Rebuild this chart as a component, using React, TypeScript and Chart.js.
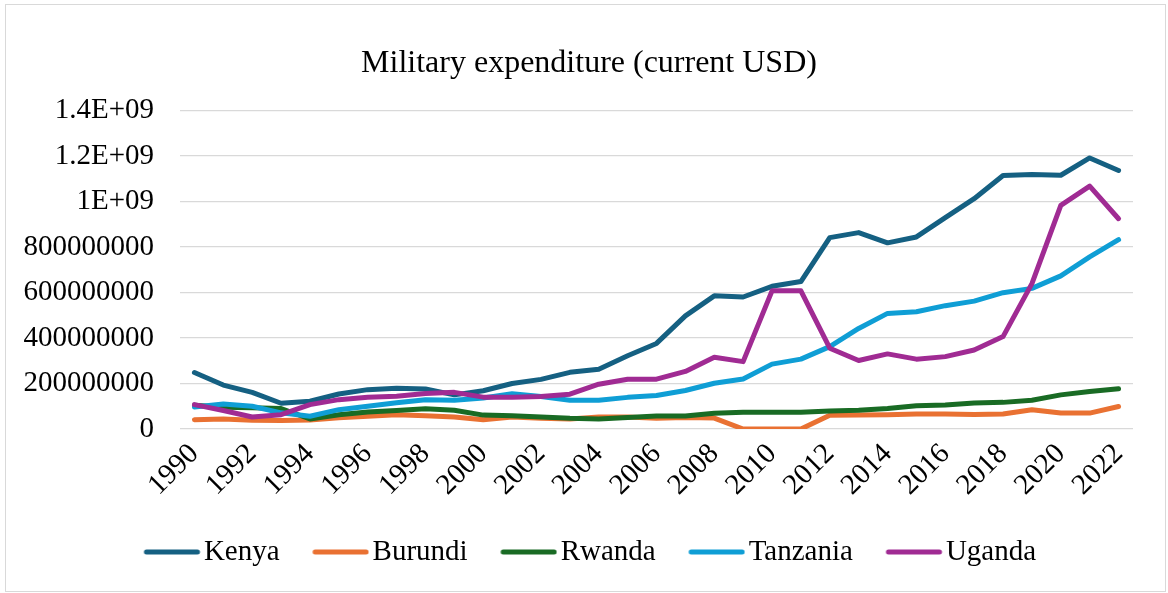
import React, { useEffect, useRef } from "react";
import { Chart, registerables } from "chart.js";

Chart.register(...registerables);

const years = [
  "1990", "1991", "1992", "1993", "1994", "1995", "1996", "1997", "1998", "1999",
  "2000", "2001", "2002", "2003", "2004", "2005", "2006", "2007", "2008", "2009",
  "2010", "2011", "2012", "2013", "2014", "2015", "2016", "2017", "2018", "2019",
  "2020", "2021", "2022",
];

const xTickLabels = years.map((y, i) => (i % 2 === 0 ? y : ""));

const yTickLabels = [
  "0", "200000000", "400000000", "600000000", "800000000", "1E+09", "1.2E+09", "1.4E+09",
];

const kenya = [
  248e6, 193e6, 161e6, 113e6, 122e6, 154e6, 173e6, 179e6, 176e6, 150e6,
  168e6, 200e6, 218e6, 249e6, 263e6, 322e6, 376e6, 497e6, 585e6, 580e6,
  627e6, 648e6, 841e6, 863e6, 818e6, 844e6, 929e6, 1012e6, 1114e6, 1118e6,
  1115e6, 1191e6, 1136e6,
];

const burundi = [
  41e6, 44e6, 38e6, 37e6, 40e6, 49e6, 56e6, 63e6, 58e6, 53e6,
  41e6, 53e6, 47e6, 44e6, 53e6, 53e6, 47e6, 51e6, 48e6, 0,
  0, 0, 60e6, 61e6, 63e6, 66e6, 66e6, 64e6, 66e6, 85e6,
  70e6, 70e6, 99e6,
];

const rwanda = [
  104e6, 96e6, 93e6, 90e6, 44e6, 63e6, 75e6, 81e6, 89e6, 82e6,
  61e6, 58e6, 53e6, 47e6, 44e6, 51e6, 57e6, 57e6, 69e6, 74e6,
  74e6, 74e6, 79e6, 82e6, 90e6, 102e6, 105e6, 114e6, 117e6, 126e6,
  150e6, 165e6, 177e6,
];

const tanzania = [
  97e6, 110e6, 100e6, 71e6, 56e6, 85e6, 100e6, 115e6, 129e6, 126e6,
  136e6, 155e6, 143e6, 126e6, 126e6, 139e6, 147e6, 169e6, 201e6, 220e6,
  285e6, 307e6, 362e6, 442e6, 508e6, 515e6, 542e6, 562e6, 599e6, 618e6,
  673e6, 756e6, 832e6,
];

const uganda = [
  107e6, 81e6, 53e6, 63e6, 107e6, 129e6, 140e6, 144e6, 156e6, 161e6,
  140e6, 139e6, 143e6, 153e6, 197e6, 219e6, 219e6, 253e6, 315e6, 296e6,
  607e6, 607e6, 355e6, 301e6, 330e6, 307e6, 318e6, 347e6, 406e6, 639e6,
  983e6, 1067e6, 924e6,
];

const seriesNames = ["Kenya", "Burundi", "Rwanda", "Tanzania", "Uganda"];
const seriesValues = [kenya, burundi, rwanda, tanzania, uganda];
const seriesColors = ["#156082", "#E97132", "#196B24", "#0F9ED5", "#A02B93"];

const FONT = "'Liberation Serif', 'Times New Roman', serif";

// legend swatch: a 56px round-capped line whose right end sits 4px before the label text
function legendLine(color: string): HTMLCanvasElement {
  const c = document.createElement("canvas");
  c.width = 70;
  c.height = 8;
  const g = c.getContext("2d");
  if (g) {
    g.strokeStyle = color;
    g.lineWidth = 5;
    g.lineCap = "round";
    g.beginPath();
    g.moveTo(15.75, 4);
    g.lineTo(66.75, 4);
    g.stroke();
  }
  return c;
}

export default function App() {
  const ref = useRef<HTMLCanvasElement | null>(null);

  useEffect(() => {
    if (!ref.current) return;
    const datasets = seriesNames.map((name, i) => ({
      label: name,
      data: seriesValues[i],
      borderColor: seriesColors[i],
      backgroundColor: seriesColors[i],
      borderWidth: 5,
      borderCapStyle: "round" as const,
      borderJoinStyle: "round" as const,
      pointRadius: 0,
      pointHoverRadius: 0,
      pointStyle: legendLine(seriesColors[i]),
      tension: 0,
      fill: false,
      order: seriesNames.length - i,
      yAxisID: "y",
    }));

    const chart = new Chart(ref.current, {
      type: "line",
      data: { labels: years, datasets },
      options: {
        responsive: false,
        animation: false,
        devicePixelRatio: 1,
        layout: { padding: { left: 20, right: 10, top: 0, bottom: 16.5 } },
        plugins: {
          title: {
            display: true,
            text: "Military expenditure (current USD)",
            color: "#000",
            font: { family: FONT, size: 32, weight: "normal" },
            padding: { top: 44, bottom: 28 },
          },
          legend: {
            position: "bottom",
            labels: {
              usePointStyle: true,
              pointStyleWidth: 47.5,
              padding: 31,
              color: "#000",
              font: { family: FONT, size: 29 },
              sort: (a: any, b: any) => a.datasetIndex - b.datasetIndex,
            },
          },
          tooltip: { enabled: false },
        },
        scales: {
          x: {
            type: "category",
            offset: true,
            grid: { display: false, drawTicks: false },
            border: { display: false },
            ticks: {
              autoSkip: false,
              maxRotation: 45,
              minRotation: 45,
              padding: 8,
              color: "#000",
              font: { family: FONT, size: 29 },
              callback: (_v: any, i: number) => xTickLabels[i],
            },
            afterFit: (scale: any) => {
              scale.height = 77.5;
            },
          },
          y: {
            position: "left",
            min: 0,
            max: 1.4e9,
            grid: { color: "#d9d9d9", lineWidth: 1.3, drawTicks: false },
            border: { display: false },
            ticks: {
              stepSize: 2e8,
              padding: 26,
              color: "#000",
              font: { family: FONT, size: 29 },
              callback: (_v: any, i: number) => yTickLabels[i],
            },
            afterFit: (scale: any) => {
              scale.width = 160;
            },
          },
          yRight: {
            position: "right",
            display: true,
            grid: { display: false, drawTicks: false },
            border: { display: false },
            ticks: { display: false },
            afterFit: (scale: any) => {
              scale.width = 25;
            },
          },
        },
      },
    });
    return () => chart.destroy();
  }, []);

  return (
    <div style={{ position: "fixed", left: 0, top: 0, width: 1168, height: 593, background: "#fff" }}>
      <div
        style={{
          position: "absolute",
          left: 5,
          top: 4,
          width: 1161,
          height: 588,
          border: "1.5px solid #d9d9d9",
          boxSizing: "border-box",
        }}
      />
      <canvas ref={ref} width={1168} height={593} style={{ position: "absolute", left: 0, top: 0 }} />
    </div>
  );
}
